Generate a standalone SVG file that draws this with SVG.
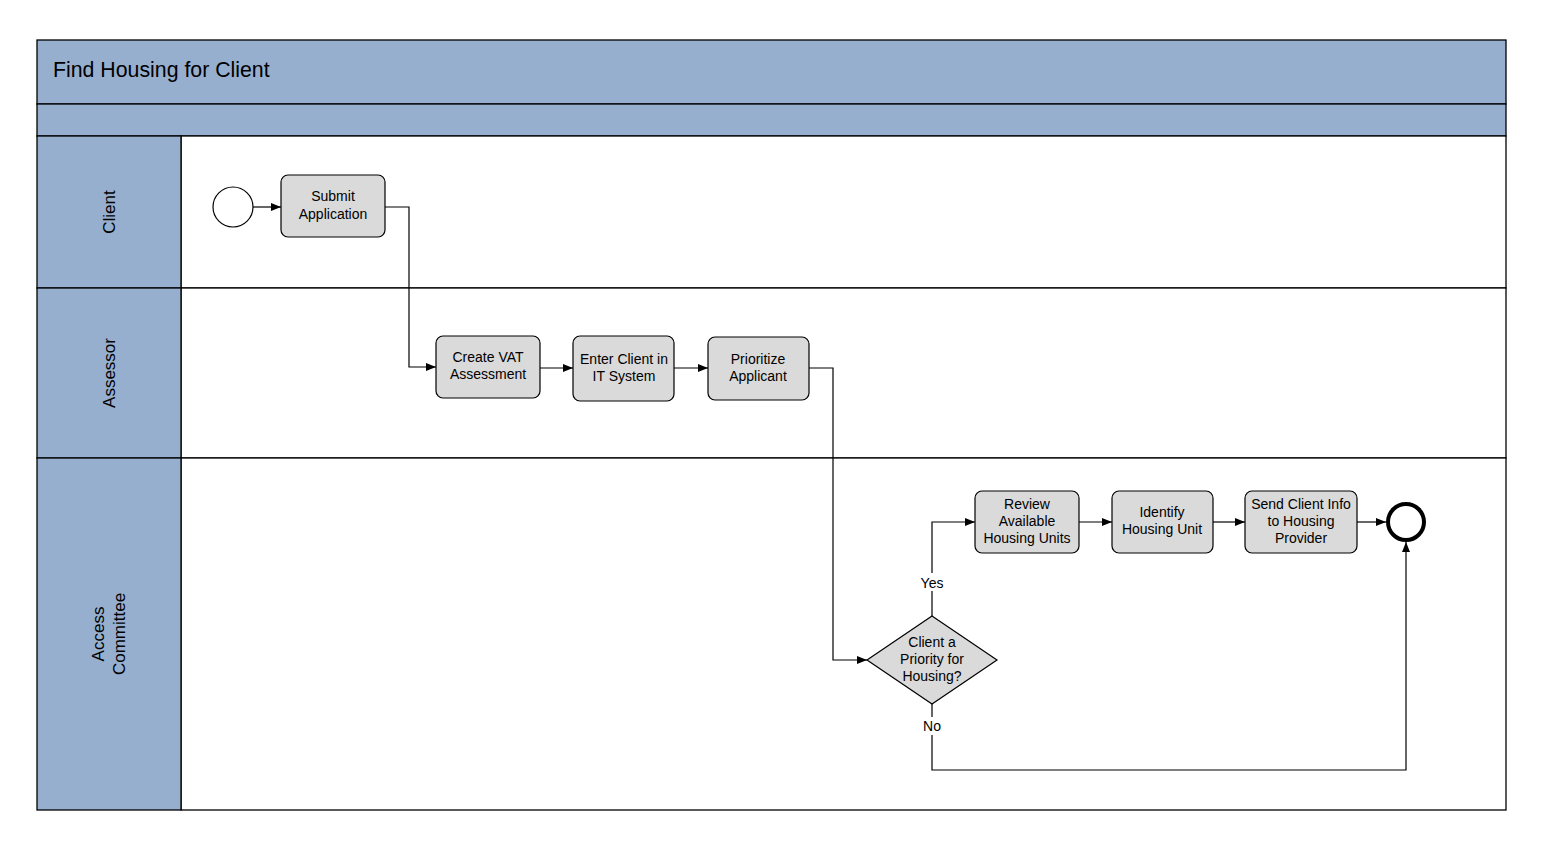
<svg xmlns="http://www.w3.org/2000/svg" width="1543" height="856" viewBox="0 0 1543 856">
<style>
.band{fill:#96afcf;stroke:#000;stroke-width:1.3}
.lane{fill:#fff;stroke:#000;stroke-width:1.3}
.task{fill:#dadada;stroke:#000;stroke-width:1.2}
.t{font-family:"Liberation Sans",Arial,sans-serif;font-size:14px;fill:#000;text-anchor:middle}
.lbl{font-family:"Liberation Sans",Arial,sans-serif;font-size:17px;fill:#000;text-anchor:middle}
.c{fill:none;stroke:#000;stroke-width:1.2}
</style>
<defs>
<marker id="ah" markerWidth="10" markerHeight="8" refX="10" refY="4" orient="auto" markerUnits="userSpaceOnUse">
<path d="M0,0 L10,4 L0,8 Z" fill="#000"/>
</marker>
</defs>
<rect width="1543" height="856" fill="#fff"/>
<g id="pool">
<rect class="band" x="37" y="40" width="1469" height="64"/>
<text x="53" y="77" font-family="Liberation Sans,Arial,sans-serif" font-size="21.3" fill="#000">Find Housing for Client</text>
<rect class="band" x="37" y="104" width="1469" height="32"/>
</g>
<g id="lane-client">
<rect class="lane" x="181" y="136" width="1325" height="152"/>
<rect class="band" x="37" y="136" width="144" height="152"/>
<text class="lbl" transform="translate(115,212) rotate(-90)">Client</text>
</g>
<g id="lane-assessor">
<rect class="lane" x="181" y="288" width="1325" height="170"/>
<rect class="band" x="37" y="288" width="144" height="170"/>
<text class="lbl" transform="translate(115,373) rotate(-90)">Assessor</text>
</g>
<g id="lane-committee">
<rect class="lane" x="181" y="458" width="1325" height="352"/>
<rect class="band" x="37" y="458" width="144" height="352"/>
<text class="lbl" transform="translate(104,634) rotate(-90)">Access</text>
<text class="lbl" transform="translate(125,634) rotate(-90)">Committee</text>
</g>
<g id="connectors">
<path class="c" d="M253,207 H281" marker-end="url(#ah)"/>
<path class="c" d="M385,207 H409 V367 H436" marker-end="url(#ah)"/>
<path class="c" d="M540,368 H573" marker-end="url(#ah)"/>
<path class="c" d="M674,368 H708" marker-end="url(#ah)"/>
<path class="c" d="M809,368 H833 V660 H867" marker-end="url(#ah)"/>
<path class="c" d="M932,616 V522 H975" marker-end="url(#ah)"/>
<path class="c" d="M1079,522 H1112" marker-end="url(#ah)"/>
<path class="c" d="M1213,522 H1245" marker-end="url(#ah)"/>
<path class="c" d="M1357,522 H1386" marker-end="url(#ah)"/>
<path class="c" d="M932,704 V770 H1406 V542" marker-end="url(#ah)"/>
<rect x="916" y="573" width="32" height="18" fill="#fff"/>
<text class="t" x="932" y="588">Yes</text>
<rect x="918" y="717" width="28" height="18" fill="#fff"/>
<text class="t" x="932" y="731">No</text>
</g>
<g id="start">
<circle cx="233" cy="207" r="20" fill="#fff" stroke="#000" stroke-width="1.2"/>
</g>
<g id="submit">
<rect class="task" x="281" y="175" width="104" height="62" rx="7"/>
<text class="t" x="333" y="201">Submit</text>
<text class="t" x="333" y="219">Application</text>
</g>
<g id="vat">
<rect class="task" x="436" y="336" width="104" height="62" rx="7"/>
<text class="t" x="488" y="362">Create VAT</text>
<text class="t" x="488" y="379">Assessment</text>
</g>
<g id="enter">
<rect class="task" x="573" y="336" width="101" height="65" rx="7"/>
<text class="t" x="624" y="364">Enter Client in</text>
<text class="t" x="624" y="381">IT System</text>
</g>
<g id="prioritize">
<rect class="task" x="708" y="337" width="101" height="63" rx="7"/>
<text class="t" x="758" y="364">Prioritize</text>
<text class="t" x="758" y="381">Applicant</text>
</g>
<g id="decision">
<polygon class="task" points="932,616 997,660 932,704 867,660"/>
<text class="t" x="932" y="647">Client a</text>
<text class="t" x="932" y="664">Priority for</text>
<text class="t" x="932" y="681">Housing?</text>
</g>
<g id="review">
<rect class="task" x="975" y="491" width="104" height="62" rx="7"/>
<text class="t" x="1027" y="509">Review</text>
<text class="t" x="1027" y="526">Available</text>
<text class="t" x="1027" y="543">Housing Units</text>
</g>
<g id="identify">
<rect class="task" x="1112" y="491" width="101" height="62" rx="7"/>
<text class="t" x="1162" y="517">Identify</text>
<text class="t" x="1162" y="534">Housing Unit</text>
</g>
<g id="send">
<rect class="task" x="1245" y="491" width="112" height="62" rx="7"/>
<text class="t" x="1301" y="509">Send Client Info</text>
<text class="t" x="1301" y="526">to Housing</text>
<text class="t" x="1301" y="543">Provider</text>
</g>
<g id="end">
<circle cx="1406" cy="522" r="18" fill="#fff" stroke="#000" stroke-width="4"/>
</g>
</svg>
